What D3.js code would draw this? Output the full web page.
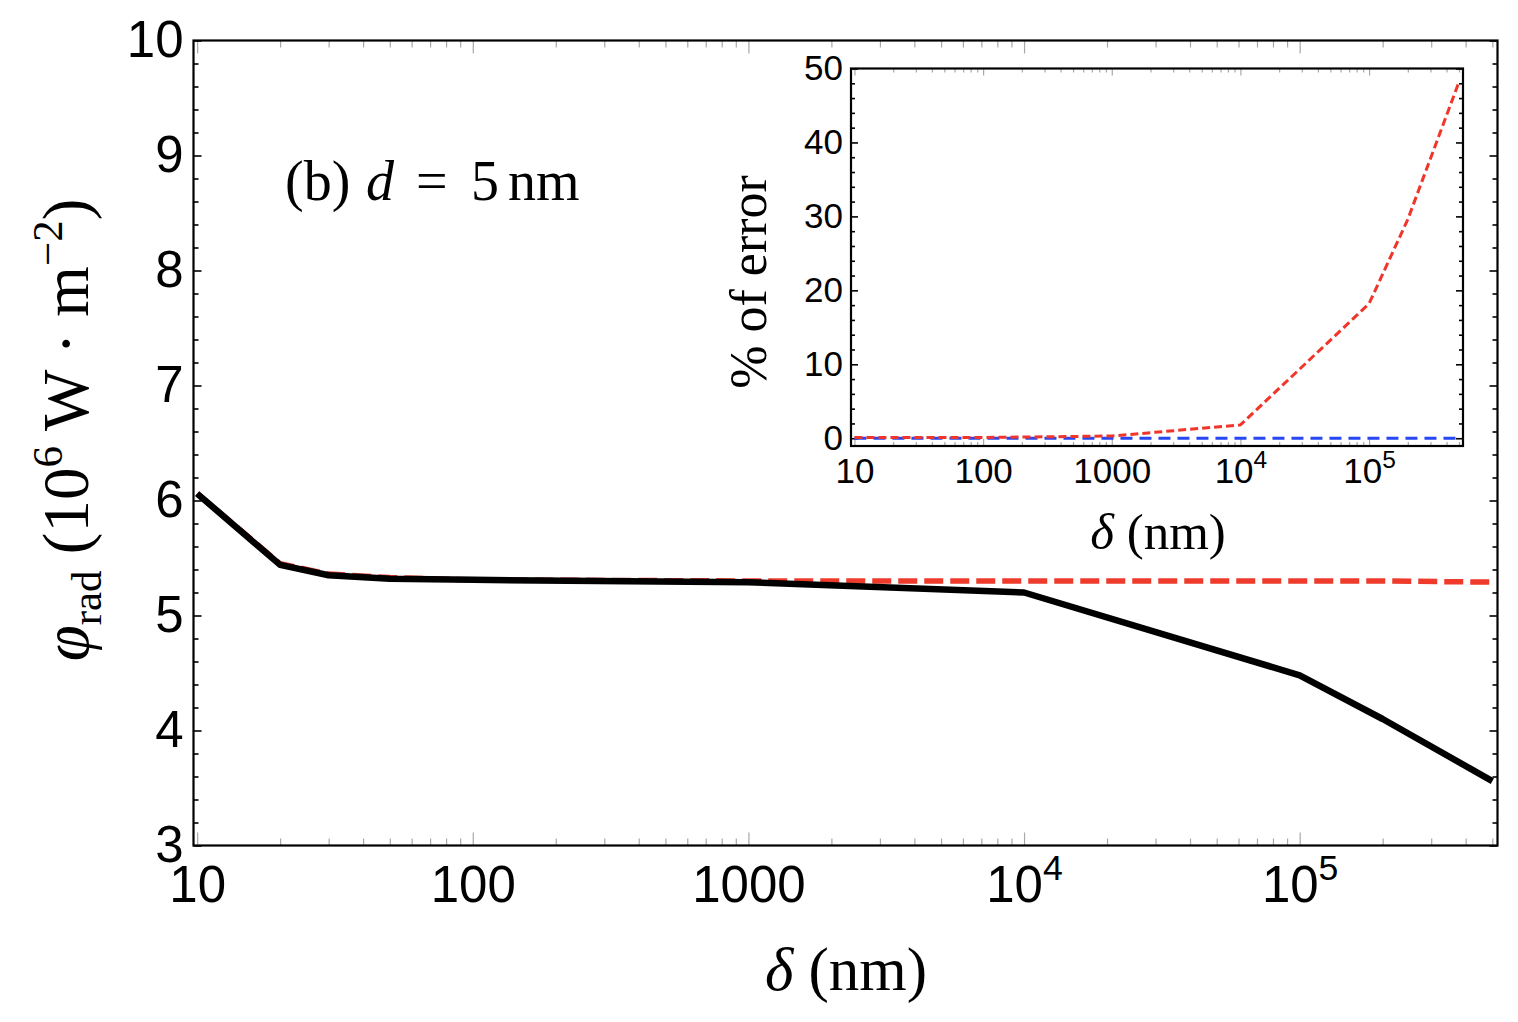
<!DOCTYPE html>
<html>
<head>
<meta charset="utf-8">
<script src="https://cdn.jsdelivr.net/npm/d3@7"></script>
<style>
  body { margin: 0; background: #fff; }
  svg { display: block; }
</style>
</head>
<body>
<svg id="chart" width="1518" height="1022"></svg>
<script>
// delta (nm) sample points
const delta = [10, 20, 30, 50, 100, 1000, 1e4, 1e5, 2e5, 5e5]
// phi_rad, 10^6 W m^-2
const phiExact = [6.06, 5.44, 5.35, 5.32, 5.31, 5.29, 5.20, 4.48, 4.10, 3.56]
const phiApprox = [6.06, 5.45, 5.36, 5.33, 5.31, 5.30, 5.30, 5.30, 5.30, 5.29]
// inset: % of error
const errRed = [0.1, 0.1, 0.1, 0.1, 0.1, 0.3, 1.8, 18.2, 29.6, 48.2]
const errBlue = [0, 0, 0, 0, 0, 0, 0, 0, 0, 0]

const xMajor = [10, 100, 1000, 1e4, 1e5]
const yMajor = [3, 4, 5, 6, 7, 8, 9, 10]
const insetYMajor = [0, 10, 20, 30, 40, 50]

const SANS = 'Liberation Sans, Arial, sans-serif'
const SERIF = 'Liberation Serif, Times New Roman, serif'

const svg = d3.select('#chart')

function logMinors(lo, hi) {
  let out = []
  for (let p = 1; p <= 5; p++) {
    for (let k = 2; k <= 9; k++) {
      let v = k * Math.pow(10, p)
      if (v > lo && v < hi) out.push(v)
    }
  }
  return out
}

function supLabel(sel, size) {
  // turn 10000 -> 10^4 with a raised exponent
  sel.each(function (d) {
    let t = d3.select(this)
    if (d >= 1e4) {
      let e = Math.round(Math.log10(d))
      t.text('')
      t.append('tspan').text('10')
      t.append('tspan').attr('font-size', size * 0.7).attr('dy', -size * 0.42).text(e)
    }
  })
}

function drawPanel(g, o) {
  let x = o.x, y = o.y
  let [x0, x1] = x.range()
  let [y0, y1] = y.range()

  g.append('rect')
    .attr('x', x0).attr('y', y1)
    .attr('width', x1 - x0).attr('height', y0 - y1)
    .attr('fill', '#fff')

  let xMin = logMinors(x.domain()[0], x.domain()[1])

  // gray x ticks, bottom and top
  let xb = g.append('g').attr('transform', 'translate(0,' + y0 + ')')
  xb.call(d3.axisBottom(x).tickValues(xMin).tickSize(-o.xMinorLen).tickFormat(''))
  let xbMaj = xb.append('g').call(d3.axisBottom(x).tickValues(xMajor).tickSize(-o.xMajorLen)
    .tickPadding(o.xPad).tickFormat(d3.format('d')))
  let xt = g.append('g').attr('transform', 'translate(0,' + y1 + ')')
  xt.call(d3.axisTop(x).tickValues(xMin).tickSize(-o.xMinorLen).tickFormat(''))
  xt.append('g').call(d3.axisTop(x).tickValues(xMajor).tickSize(-o.xMajorLen).tickFormat(''))
  ;[xb, xt].forEach((a) => {
    a.selectAll('.domain').remove()
    a.selectAll('line').attr('stroke', '#a8a8a8').attr('stroke-width', 1.2)
  })
  xbMaj.selectAll('text')
    .attr('font-family', SANS).attr('font-size', o.font).attr('fill', '#000')
    .call(supLabel, o.font)

  // black y ticks, left and right
  let yl = g.append('g').attr('transform', 'translate(' + x0 + ',0)')
  yl.call(d3.axisLeft(y).tickValues(o.yMinor).tickSize(-o.yMinorLen).tickFormat(''))
  let ylMaj = yl.append('g').call(d3.axisLeft(y).tickValues(o.yMajor).tickSize(-o.yMajorLen)
    .tickPadding(o.yPad).tickFormat(d3.format('d')))
  let yr = g.append('g').attr('transform', 'translate(' + x1 + ',0)')
  yr.call(d3.axisRight(y).tickValues(o.yMinor).tickSize(-o.yMinorLen).tickFormat(''))
  yr.append('g').call(d3.axisRight(y).tickValues(o.yMajor).tickSize(-o.yMajorLen).tickFormat(''))
  ;[yl, yr].forEach((a) => {
    a.selectAll('.domain').remove()
    a.selectAll('line').attr('stroke', '#000').attr('stroke-width', 1.6)
  })
  ylMaj.selectAll('text')
    .attr('font-family', SANS).attr('font-size', o.font).attr('fill', '#000')

  g.selectAll('g').attr('font-family', null).attr('font-size', null)
}

// ---------- main panel ----------
const x = d3.scaleLog().domain([9.7, 5.22e5]).range([193.5, 1497.5])
const y = d3.scaleLinear().domain([3, 10]).range([845.5, 40.5])
const yMinor = d3.range(3, 10.001, 0.2).filter((v) => Math.abs(v - Math.round(v)) > 0.01)

const main = svg.append('g')
drawPanel(main, {
  x: x, y: y, yMajor: yMajor, yMinor: yMinor,
  xMajorLen: 13, xMinorLen: 7, yMajorLen: 8, yMinorLen: 5,
  xPad: 20, yPad: 10, font: 51
})

const line = d3.line().x((d) => x(d[0])).y((d) => y(d[1]))
main.append('path')
  .attr('d', line(d3.zip(delta, phiApprox)))
  .attr('fill', 'none').attr('stroke', '#ee3b2c').attr('stroke-width', 5.5)
  .attr('stroke-dasharray', '19 7')
main.append('path')
  .attr('d', line(d3.zip(delta, phiExact)))
  .attr('fill', 'none').attr('stroke', '#000').attr('stroke-width', 6.5)
  .attr('stroke-linejoin', 'round')
main.append('rect')
  .attr('x', 193.5).attr('y', 40.5).attr('width', 1304).attr('height', 805)
  .attr('fill', 'none').attr('stroke', '#000').attr('stroke-width', 2.2)

// ---------- inset ----------
const xi = d3.scaleLog().domain([9.4, 5.37e5]).range([851, 1463])
const yi = d3.scaleLinear().domain([-1.05, 50]).range([446, 68.5])
const insetYMinor = d3.range(2, 50, 2).filter((v) => v % 10 !== 0)

const inset = svg.append('g')
drawPanel(inset, {
  x: xi, y: yi, yMajor: insetYMajor, yMinor: insetYMinor,
  xMajorLen: 7, xMinorLen: 4, yMajorLen: 7, yMinorLen: 4,
  xPad: 12, yPad: 8, font: 35
})

const lineI = d3.line().x((d) => xi(d[0])).y((d) => yi(d[1]))
inset.append('path')
  .attr('d', lineI(d3.zip(delta, errBlue)))
  .attr('fill', 'none').attr('stroke', '#2746f5').attr('stroke-width', 3)
  .attr('stroke-dasharray', '12 7')
inset.append('path')
  .attr('d', lineI(d3.zip(delta, errRed)))
  .attr('fill', 'none').attr('stroke', '#f0352a').attr('stroke-width', 3)
  .attr('stroke-dasharray', '8 4')
inset.append('rect')
  .attr('x', 851).attr('y', 68.5).attr('width', 612).attr('height', 377.5)
  .attr('fill', 'none').attr('stroke', '#000').attr('stroke-width', 2.2)

// ---------- labels ----------
const xl = svg.append('text')
  .attr('x', 846).attr('y', 990).attr('text-anchor', 'middle')
  .attr('font-family', SERIF).attr('font-size', 61)
xl.append('tspan').attr('font-style', 'italic').text('δ')
xl.append('tspan').text(' (nm)')

const yLab = svg.append('text')
  .attr('transform', 'translate(88,430) rotate(-90)').attr('text-anchor', 'middle')
  .attr('font-family', SERIF).attr('font-size', 65)
yLab.append('tspan').attr('font-style', 'italic').text('φ')
yLab.append('tspan').attr('font-size', 43).attr('dy', 13).text('rad')
yLab.append('tspan').attr('dy', -13).text(' (10')
yLab.append('tspan').attr('font-size', 43).attr('dy', -26).text('6')
yLab.append('tspan').attr('dy', 26).text(' W · m')
yLab.append('tspan').attr('font-size', 43).attr('dy', -26).text('−2')
yLab.append('tspan').attr('dy', 26).text(')')

const xli = svg.append('text')
  .attr('x', 1158).attr('y', 549).attr('text-anchor', 'middle')
  .attr('font-family', SERIF).attr('font-size', 51)
xli.append('tspan').attr('font-style', 'italic').text('δ')
xli.append('tspan').text(' (nm)')

svg.append('text')
  .attr('transform', 'translate(766,282) rotate(-90)').attr('text-anchor', 'middle')
  .attr('font-family', SERIF).attr('font-size', 52)
  .text('% of error')

const ann = svg.append('text')
  .attr('y', 200)
  .attr('font-family', SERIF).attr('font-size', 56)
ann.append('tspan').attr('x', 285).text('(b)')
ann.append('tspan').attr('x', 366).attr('font-style', 'italic').text('d')
ann.append('tspan').attr('x', 416).text('=')
ann.append('tspan').attr('x', 471).text('5')
ann.append('tspan').attr('x', 508).text('nm')
</script>
</body>
</html>
